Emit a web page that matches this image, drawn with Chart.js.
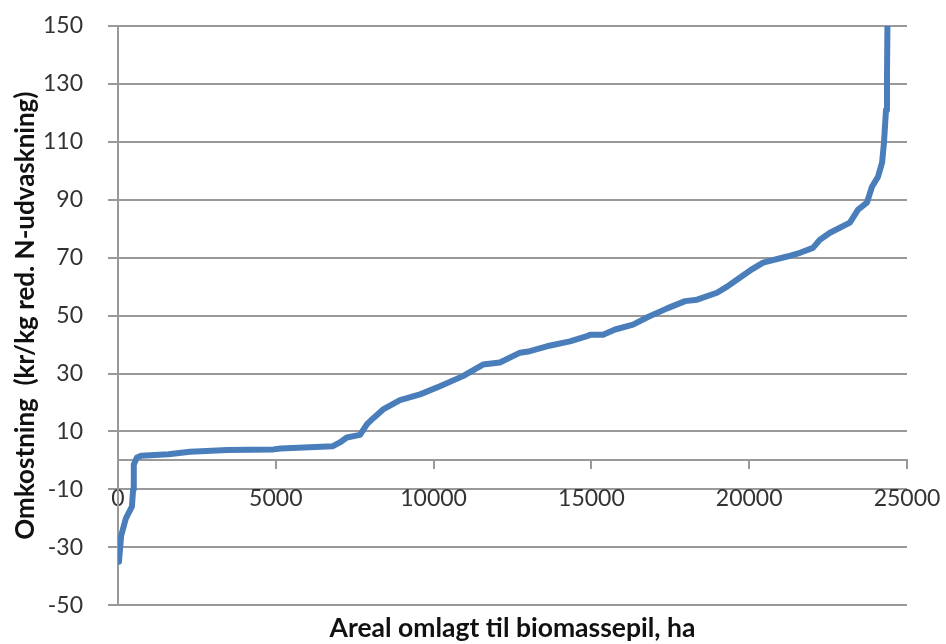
<!DOCTYPE html>
<html>
<head>
<meta charset="utf-8">
<script src="https://cdn.jsdelivr.net/npm/chart.js@4/dist/chart.umd.min.js"></script>
<style>
  html, body { margin: 0; padding: 0; background: #fff; }
  #wrap { width: 946px; height: 644px; }
</style>
</head>
<body>
<div id="wrap"><canvas id="chart" width="946" height="644"></canvas></div>
<script>
// Areal (ha) og omkostning (kr/kg red. N-udvaskning)
var areaHa = [
  30, 100, 250, 440, 480, 500, 600, 730, 1600, 2280,
  3470, 4930, 5150, 6810, 7030, 7250, 7670, 7890, 8080, 8400,
  8935, 9570, 10200, 10930, 11565, 12100, 12740, 13050, 13590, 14320,
  14860, 14960, 15370, 15750, 16320, 16790, 17400, 17970, 18350, 18980,
  19300, 19610, 20030, 20440, 21200, 21610, 22020, 22240, 22560, 23190,
  23450, 23730, 23890, 24080, 24210, 24270, 24335, 24366, 24380
];
var costKr = [
  -35, -26, -20, -16, -10, -1.4, 1.0, 1.6, 2.1, 3.0,
  3.55, 3.8, 4.1, 4.9, 6.2, 7.9, 8.8, 12.5, 14.5, 17.6,
  20.8, 22.8, 25.6, 29.1, 33.1, 33.8, 37.2, 37.7, 39.4, 41.1,
  42.9, 43.4, 43.4, 45.2, 46.9, 49.5, 52.5, 55, 55.5, 57.9,
  60, 62.4, 65.6, 68.3, 70.4, 71.7, 73.4, 76.2, 78.6, 82.1,
  86.6, 89, 94.5, 97.9, 102.8, 109.7, 121, 132.4, 150
];
var xTicks = [0, 5000, 10000, 15000, 20000, 25000];
var yTicks = [-50, -30, -10, 10, 30, 50, 70, 90, 110, 130, 150];

var points = areaHa.map(function (x, i) {
  return { x: x, y: costKr[i] };
});

var gridGray = "#999999";
var fontName = "Lato, 'DejaVu Sans', sans-serif";

new Chart(document.getElementById("chart"), {
  type: "scatter",
  data: {
    datasets: [
      {
        data: points,
        showLine: true,
        borderColor: "#4a7ebb",
        backgroundColor: "#4a7ebb",
        borderWidth: 6,
        pointRadius: 0,
        tension: 0,
        borderJoinStyle: "round",
        borderCapStyle: "round",
      },
    ],
  },
  options: {
    responsive: false,
    animation: false,
    layout: { padding: { left: 0, right: 39, top: 26, bottom: 0 } },
    plugins: {
      legend: { display: false },
      tooltip: { enabled: false },
      title: {
        display: true,
        position: "bottom",
        fullSize: false,
        text: "Areal omlagt til biomassepil, ha",
        color: "#111",
        font: { family: fontName, size: 26.5, weight: "bold" },
        padding: { top: 7, bottom: 0 },
      },
    },
    scales: {
      x: {
        type: "linear",
        position: { y: 0 },
        min: 0,
        max: 25000,
        afterBuildTicks: function (scale) {
          scale.ticks = xTicks.map(function (v) { return { value: v }; });
        },
        afterFit: function (scale) {
          scale.height = 0;
          scale.paddingLeft = 0;
          scale.paddingRight = 0;
        },
        grid: {
          drawOnChartArea: false,
          drawTicks: true,
          tickLength: 8,
          color: gridGray,
          lineWidth: 2,
        },
        border: { display: true, color: gridGray, width: 2 },
        ticks: {
          padding: 16,
          maxRotation: 0,
          color: "#333",
          font: { family: fontName, size: 23 },
          callback: function (v) { return String(v); },
        },
      },
      y: {
        type: "linear",
        min: -50,
        max: 150,
        afterBuildTicks: function (scale) {
          scale.ticks = yTicks.map(function (v) { return { value: v }; });
        },
        afterFit: function (scale) {
          scale.width = 118;
          scale.paddingTop = 0;
          scale.paddingBottom = 0;
        },
        grid: {
          color: gridGray,
          lineWidth: 2,
          tickLength: 10,
        },
        border: { display: true, color: gridGray, width: 2 },
        ticks: {
          padding: 25,
          color: "#333",
          font: { family: fontName, size: 23 },
          callback: function (v) { return String(v); },
        },
        title: {
          display: true,
          text: "Omkostning  (kr/kg red. N-udvaskning)",
          color: "#111",
          font: { family: fontName, size: 26, weight: "bold" },
          padding: { top: 10, bottom: 0 },
        },
      },
    },
  },
});
</script>
</body>
</html>
